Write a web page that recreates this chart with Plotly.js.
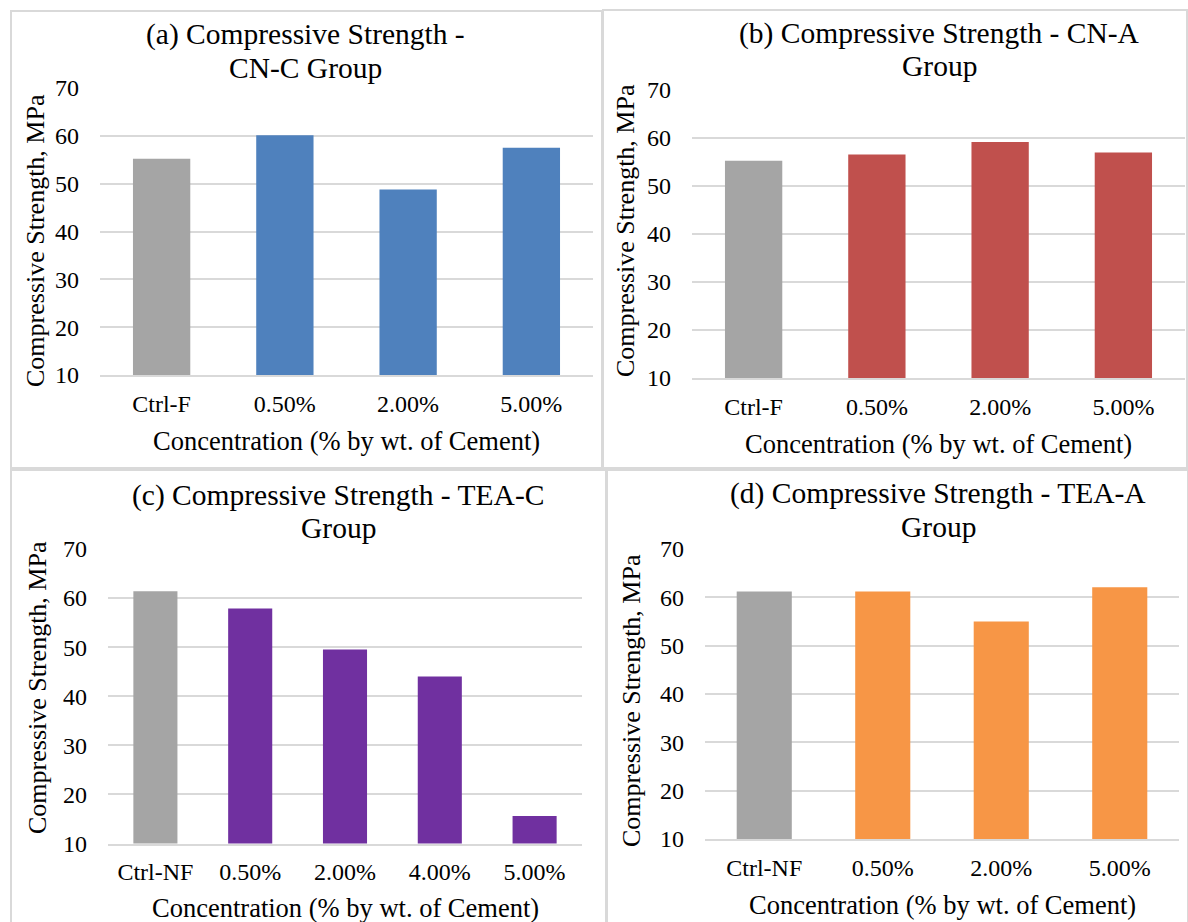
<!DOCTYPE html>
<html>
<head>
<meta charset="utf-8">
<script src="https://cdn.plot.ly/plotly-3.0.1.min.js"></script>
<style>html,body{margin:0;padding:0;background:#fff;}#chart{width:1188px;height:922px;}</style>
</head>
<body>
<div id="chart"></div>
<script>
// ---- data ----
const catsA = ['Ctrl-F', '0.50%', '2.00%', '5.00%'];
const valsA = [55.2, 60.1, 48.8, 57.5];
const catsB = ['Ctrl-F', '0.50%', '2.00%', '5.00%'];
const valsB = [55.2, 56.5, 59.1, 56.9];
const catsC = ['Ctrl-NF', '0.50%', '2.00%', '4.00%', '5.00%'];
const valsC = [61.4, 57.9, 49.5, 44.0, 15.6];
const catsD = ['Ctrl-NF', '0.50%', '2.00%', '5.00%'];
const valsD = [61.2, 61.2, 55.0, 62.1];
const titleLines = [
  ['(a) Compressive Strength -', 'CN-C Group'],
  ['(b) Compressive Strength - CN-A', 'Group'],
  ['(c) Compressive Strength - TEA-C', 'Group'],
  ['(d) Compressive Strength - TEA-A', 'Group']
];
const yTitle = 'Compressive Strength, MPa';
const xTitle = 'Concentration (% by wt. of Cement)';
const ctrlColor = '#A5A5A5';
const groupColors = ['#4F81BD', '#C0504D', '#7030A0', '#F79646'];

// ---- layout helpers ----
const W = 1188, H = 922;
const FONT = 'Liberation Serif, Times New Roman, serif';
const px = v => v / W;
const py = v => 1 - v / H;

const panels = [
  {cats: catsA, vals: valsA, x0: 100, x1: 593, y0: 88, y1: 375, box: [11, 11, 602, 468], tx: 305, ty: [35, 68], ytx: 35, yty: 241, xty: 441},
  {cats: catsB, vals: valsB, x0: 692, x1: 1185, y0: 89.5, y1: 378, box: [603, 10, 1187, 468], tx: 939, ty: [33, 66], ytx: 625, yty: 231, xty: 444},
  {cats: catsC, vals: valsC, x0: 108, x1: 582, y0: 549, y1: 843.5, box: [11, 470, 607, 930], tx: 338, ty: [495, 528], ytx: 37, yty: 688, xty: 908},
  {cats: catsD, vals: valsD, x0: 705, x1: 1179, y0: 549, y1: 839, box: [606, 470, 1188, 930], tx: 938, ty: [493, 527], ytx: 631, yty: 701, xty: 905}
];

const data = [];
const layout = {
  width: W, height: H,
  margin: {l: 0, r: 0, t: 0, b: 0},
  paper_bgcolor: '#ffffff', plot_bgcolor: '#ffffff',
  showlegend: false,
  bargap: 0.535,
  font: {family: FONT, color: '#000000', size: 24},
  shapes: [], annotations: []
};

panels.forEach((p, i) => {
  const n = i === 0 ? '' : String(i + 1);
  data.push({
    type: 'bar',
    x: p.cats, y: p.vals,
    xaxis: 'x' + n, yaxis: 'y' + n,
    marker: {color: p.cats.map((c, k) => k === 0 ? ctrlColor : groupColors[i]), line: {width: 0}},
    hoverinfo: 'x+y'
  });
  layout['xaxis' + n] = {
    domain: [px(p.x0), px(p.x1)], anchor: 'y' + n,
    type: 'category', categoryorder: 'array', categoryarray: p.cats,
    showgrid: false, zeroline: false,
    showline: true, linecolor: '#D9D9D9', linewidth: 1.5,
    ticks: '', ticklabelstandoff: 6,
    tickfont: {family: FONT, size: 24, color: '#000'},
    fixedrange: true
  };
  layout['yaxis' + n] = {
    domain: [py(p.y1), py(p.y0)], anchor: 'x' + n,
    range: [10, 70], dtick: 10, tick0: 0,
    showgrid: true, gridcolor: '#D9D9D9', gridwidth: 1.5,
    zeroline: false, showline: false,
    ticks: '', ticklabelstandoff: 20,
    tickfont: {family: FONT, size: 24, color: '#000'},
    fixedrange: true
  };
  layout.shapes.push({
    type: 'rect', xref: 'paper', yref: 'paper',
    x0: px(p.box[0]), x1: px(p.box[2]), y0: py(p.box[3]), y1: py(p.box[1]),
    line: {color: '#D9D9D9', width: 2}, fillcolor: 'rgba(0,0,0,0)', layer: 'below'
  });
  titleLines[i].forEach((t, k) => {
    layout.annotations.push({
      text: t, xref: 'paper', yref: 'paper',
      x: px(p.tx), y: py(p.ty[k]), xanchor: 'center', yanchor: 'middle',
      showarrow: false, font: {family: FONT, size: 29.5, color: '#000'}
    });
  });
  layout.annotations.push({
    text: yTitle, xref: 'paper', yref: 'paper', textangle: -90,
    x: px(p.ytx), y: py(p.yty), xanchor: 'center', yanchor: 'middle',
    showarrow: false, font: {family: FONT, size: 26, color: '#000'}
  });
  layout.annotations.push({
    text: xTitle, xref: 'paper', yref: 'paper',
    x: px((p.x0 + p.x1) / 2), y: py(p.xty), xanchor: 'center', yanchor: 'middle',
    showarrow: false, font: {family: FONT, size: 26.5, color: '#000'}
  });
});

Plotly.newPlot('chart', data, layout, {displayModeBar: false, responsive: false});
</script>
</body>
</html>
